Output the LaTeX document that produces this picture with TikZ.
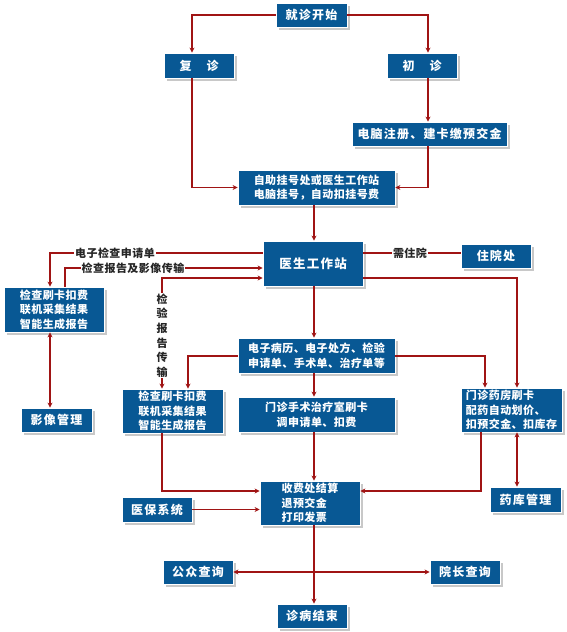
\documentclass[tikz,border=0pt]{standalone}
\usepackage{fontspec}
\setmainfont{Noto Sans CJK SC}
\newfontfamily\bxf[LetterSpace=10]{Noto Sans CJK SC}
\newfontfamily\mlf[LetterSpace=4]{Noto Sans CJK SC}
\usetikzlibrary{arrows.meta,shadows}
\definecolor{boxblue}{RGB}{8,88,148}
\definecolor{linered}{RGB}{160,20,20}
\definecolor{shadowgray}{RGB}{200,200,200}
\begin{document}
\begin{tikzpicture}[x=1pt,y=-1pt,
 box/.style={fill=boxblue, draw=white, line width=0.8pt, text=white, inner sep=0pt,
   drop shadow={shadow xshift=3pt, shadow yshift=-3pt, fill=shadowgray, opacity=1}},
 sbox/.style={box, font=\bxf\fontsize{12}{14}\selectfont\bfseries},
 mbox/.style={box, font=\mlf\fontsize{11}{14.5}\selectfont\bfseries},
 conn/.style={draw=linered, line width=1.2pt, -{Stealth[length=5pt,width=5pt]}},
 both/.style={conn, {Stealth[length=5pt,width=5pt]}-{Stealth[length=5pt,width=5pt]}},
 plain/.style={draw=linered, line width=1.2pt},
 lab/.style={fill=white, text=black!85, inner sep=1pt, font=\mlf\fontsize{11}{14.6}\selectfont\bfseries}
]
\useasboundingbox (0,0) rectangle (566,632);
% column / row references
\coordinate (cL) at (192,0);
\coordinate (cR) at (428,0);
\coordinate (cM) at (314,0);
\coordinate (xA) at (50,0);
\coordinate (xB) at (65,0);
\coordinate (xC) at (162,0);
\coordinate (xD) at (188,0);
\coordinate (xE) at (517,0);
\coordinate (xF) at (485,0);
\coordinate (xG) at (481,0);
\coordinate (yA) at (0,253);
\coordinate (yB) at (0,268);
\coordinate (yC) at (0,278);
\coordinate (yD) at (0,356);
\coordinate (yE) at (0,491);
% boxes
\node[sbox, minimum width=71pt, minimum height=24pt] (start) at (311.5,15) {就诊开始};
\node[sbox, minimum width=70pt, minimum height=25pt] (fu) at (199,65.5) {复\hspace{15pt}诊};
\node[sbox, minimum width=70pt, minimum height=25pt] (chu) at (422,65.5) {初\hspace{15pt}诊};
\node[sbox, minimum width=155pt, minimum height=24pt] (reg) at (429.5,134) {电脑注册、建卡缴预交金};
\node[mbox, minimum width=157pt, minimum height=35pt, align=left] (self) at (316.5,187.5) {自助挂号处或医生工作站\\电脑挂号，自动扣挂号费};
\node[box, font=\bxf\fontsize{12.5}{14}\selectfont\bfseries, minimum width=100pt, minimum height=45pt] (doc) at (313,263.5) {医生工作站};
\node[sbox, minimum width=70pt, minimum height=24pt] (inp) at (496,256) {住院处};
\node[mbox, minimum width=100pt, minimum height=45pt, align=center] (chkL) at (54,309.5) {检查刷卡扣费\\联机采集结果\\智能生成报告};
\node[sbox, minimum width=71pt, minimum height=24pt] (img) at (56.5,420) {影像管理};
\node[mbox, minimum width=157pt, minimum height=35pt, align=left] (emr) at (316.5,355.5) {电子病历、电子处方、检验\\申请单、手术单、治疗单等};
\node[mbox, minimum width=101pt, minimum height=44pt, align=center] (chkM) at (172.5,411) {检查刷卡扣费\\联机采集结果\\智能生成报告};
\node[mbox, minimum width=157pt, minimum height=35pt, align=center] (surg) at (316.5,414.5) {门诊手术治疗室刷卡\\调申请单、扣费};
\node[mbox, minimum width=101pt, minimum height=44pt, align=left] (pharm) at (511.5,410) {门诊药房刷卡\\配药自动划价、\\扣预交金、扣库存};
\node[mbox, minimum width=100pt, minimum height=44pt, align=left] (pay) at (310,503) {收费处结算\\退预交金\\打印发票};
\node[sbox, minimum width=70pt, minimum height=25pt] (ins) at (157,509.5) {医保系统};
\node[sbox, minimum width=71pt, minimum height=25pt] (store) at (525.5,499.5) {药库管理};
\node[sbox, minimum width=70pt, minimum height=24pt] (pub) at (198,572) {公众查询};
\node[sbox, minimum width=70pt, minimum height=24pt] (dean) at (465,572) {院长查询};
\node[sbox, minimum width=70pt, minimum height=24pt] (end) at (312,616) {诊病结束};
% connectors
\draw[conn] (start.west) -| (fu.north -| cL);
\draw[conn] (start.east) -| (chu.north -| cR);
\draw[conn] (chu.south -| cR) -- (reg.north -| cR);
\draw[conn] (fu.south -| cL) |- (self.west);
\draw[conn] (reg.south -| cR) |- (self.east);
\draw[conn] (self.south -| cM) -- (doc.north -| cM);
\draw[conn] (doc.west |- yA) -| (chkL.north -| xA);
\draw[conn] (chkL.north -| xB) |- (doc.west |- yB);
\draw[both] (chkM.north -| xC) |- (doc.west |- yC);
\draw[conn] (emr.west |- yD) -| (chkM.north -| xD);
\draw[conn] (doc.east |- yC) -| (pharm.north -| xE);
\draw[conn] (emr.east |- yD) -| (pharm.north -| xF);
\draw[conn] (doc.south -| cM) -- (emr.north -| cM);
\draw[conn] (emr.south -| cM) -- (surg.north -| cM);
\draw[conn] (surg.south -| cM) -- (pay.north -| cM);
\draw[conn] (pay.south -| cM) -- (end.north -| cM);
\draw[both] (chkL.south -| xA) -- (img.north -| xA);
\draw[conn] (chkM.south -| xC) |- (pay.west |- yE);
\draw[conn] (ins.east) -- (ins.east -| pay.west);
\draw[conn] (pharm.south -| xG) |- (pay.east |- yE);
\draw[both] (pharm.south -| xE) -- (store.north -| xE);
\draw[both] (pub.east) -- (dean.west);
\draw[plain] (doc.east |- yA) -- (inp.west |- yA);
% labels
\node[lab] (l1) at (115,253) {电子检查申请单};
\node[lab] (l2) at (133,268) {检查报告及影像传输};
\node[lab, align=center] (l3) at (162,335.5) {检\\验\\报\\告\\传\\输};
\node[lab] (l4) at (410,253) {需住院};
\end{tikzpicture}
\end{document}
